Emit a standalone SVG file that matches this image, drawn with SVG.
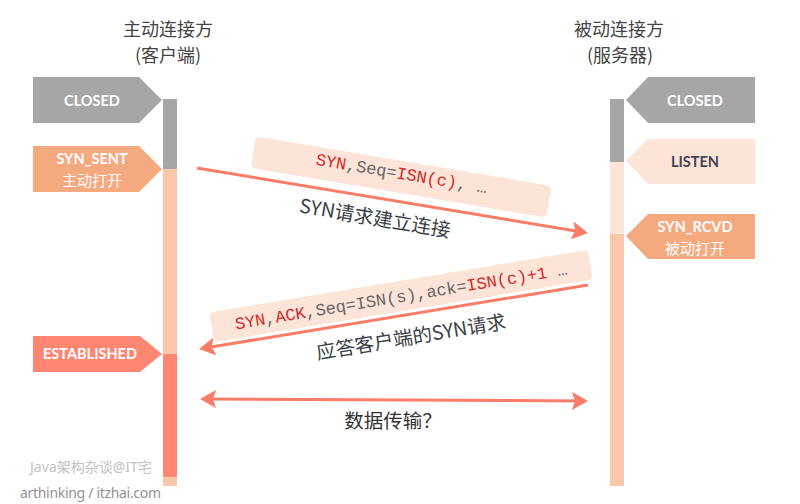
<svg xmlns="http://www.w3.org/2000/svg" width="800" height="504" viewBox="0 0 800 504">
<defs>
<style>
.title{font-family:"Noto Sans CJK SC","Noto Sans",sans-serif;font-size:18px;fill:#444;text-anchor:middle}
.lbl{font-family:Lato,"Noto Sans","Noto Sans CJK SC",sans-serif;font-size:14.5px;font-weight:bold;text-anchor:middle;fill:#fff}
.lblcjk{font-family:"Noto Sans CJK SC",sans-serif;font-size:15px;text-anchor:middle;fill:#fff}
.mono{font-family:"Liberation Mono","DejaVu Sans Mono",monospace;font-size:17px;fill:#666;text-anchor:middle}
.red{fill:#d42a2a}
.cap{font-family:"Noto Sans CJK SC","Noto Sans",sans-serif;font-size:19.5px;fill:#3a3f47;text-anchor:middle}
.arrow{stroke:#fb7c67;stroke-width:3;fill:none}
.box{fill:#fce4d8}
.wm{font-family:"Noto Sans","Noto Sans CJK SC",sans-serif;font-size:14px}
</style>
<marker id="ah" markerUnits="userSpaceOnUse" markerWidth="16" markerHeight="18" viewBox="0 0 16 18" refX="13" refY="9" orient="auto-start-reverse">
<path d="M0,0 L16,9 L0,18 L3,9 z" fill="#fb7c67"/>
</marker>
</defs>
<rect width="800" height="504" fill="#fff"/>

<g id="title-client">
<text class="title" x="168" y="36">主动连接方</text>
<text class="title" x="168" y="62">(客户端)</text>
</g>
<g id="title-server">
<text class="title" x="619" y="36">被动连接方</text>
<text class="title" x="620" y="62">(服务器)</text>
</g>

<g id="client-bar">
<rect x="163" y="99" width="14" height="70" fill="#a6a6a6"/>
<rect x="163" y="169" width="14" height="185" fill="#f9c7aa"/>
<rect x="163" y="354" width="14" height="123" fill="#fe8672"/>
<rect x="163" y="477" width="14" height="9" fill="#f9c7aa"/>
</g>
<g id="server-bar">
<rect x="610" y="99" width="14" height="63" fill="#a6a6a6"/>
<rect x="610" y="162" width="14" height="72" fill="#fce4d8"/>
<rect x="610" y="234" width="14" height="252" fill="#f9c7aa"/>
</g>

<g id="client-closed">
<polygon points="33,77 139,77 162,100 139,123 33,123" fill="#a6a6a6"/>
<text class="lbl" x="92" y="106">CLOSED</text>
</g>
<g id="client-syn-sent">
<polygon points="33,146 139,146 162,169 139,192 33,192" fill="#f5a97f"/>
<text class="lbl" x="92" y="164">SYN_SENT</text>
<text class="lblcjk" x="92" y="186">主动打开</text>
</g>
<g id="client-established">
<polygon points="33,336 140,336 162,354 140,372 33,372" fill="#fe8672"/>
<text class="lbl" x="90" y="359">ESTABLISHED</text>
</g>

<g id="server-closed">
<polygon points="626,100 648,77 755,77 755,123 648,123" fill="#a6a6a6"/>
<text class="lbl" x="695" y="106">CLOSED</text>
</g>
<g id="server-listen">
<polygon points="626,161 648,139 755,139 755,184 648,184" fill="#fce4d8"/>
<text class="lbl" x="695" y="167" style="fill:#3f4553">LISTEN</text>
</g>
<g id="server-syn-rcvd">
<polygon points="626,236 648,214 755,214 755,259 648,259" fill="#f5a97f"/>
<text class="lbl" x="695" y="232">SYN_RCVD</text>
<text class="lblcjk" x="695" y="254">被动打开</text>
</g>

<g id="msg1-box" transform="translate(401,177) rotate(9.5)">
<rect class="box" x="-150" y="-16" width="300" height="32" rx="5"/>
<text class="mono" x="0" y="2"><tspan class="red">SYN</tspan>,Seq=<tspan class="red">ISN(c)</tspan>, …</text>
</g>
<g id="msg2-box" transform="translate(401,296) rotate(-9.4)">
<rect class="box" x="-192" y="-15" width="384" height="30" rx="5"/>
<text class="mono" x="0" y="6"><tspan class="red">SYN</tspan>,<tspan class="red">ACK</tspan>,Seq=ISN(s),ack=<tspan class="red">ISN(c)+1</tspan> …</text>
</g>

<g id="connectors">
<line class="arrow" x1="197" y1="168" x2="585" y2="232.5" marker-end="url(#ah)"/>
<line class="arrow" x1="588" y1="285" x2="202" y2="348.5" marker-end="url(#ah)"/>
<line class="arrow" x1="203" y1="399" x2="585" y2="401" marker-start="url(#ah)" marker-end="url(#ah)"/>
</g>

<g id="labels">
<text class="cap" transform="translate(375,218) rotate(9.5)" x="0" y="7">SYN请求建立连接</text>
<text class="cap" transform="translate(411,337) rotate(-9.4)" x="0" y="7">应答客户端的SYN请求</text>
<text class="cap" x="393" y="428" style="fill:#333">数据传输？</text>
</g>

<g id="watermark">
<text class="wm" x="30" y="472" fill="#c2c2c2">Java架构杂谈@IT宅</text>
<text class="wm" x="20" y="498" fill="#929292" textLength="141">arthinking / itzhai.com</text>
</g>
</svg>
